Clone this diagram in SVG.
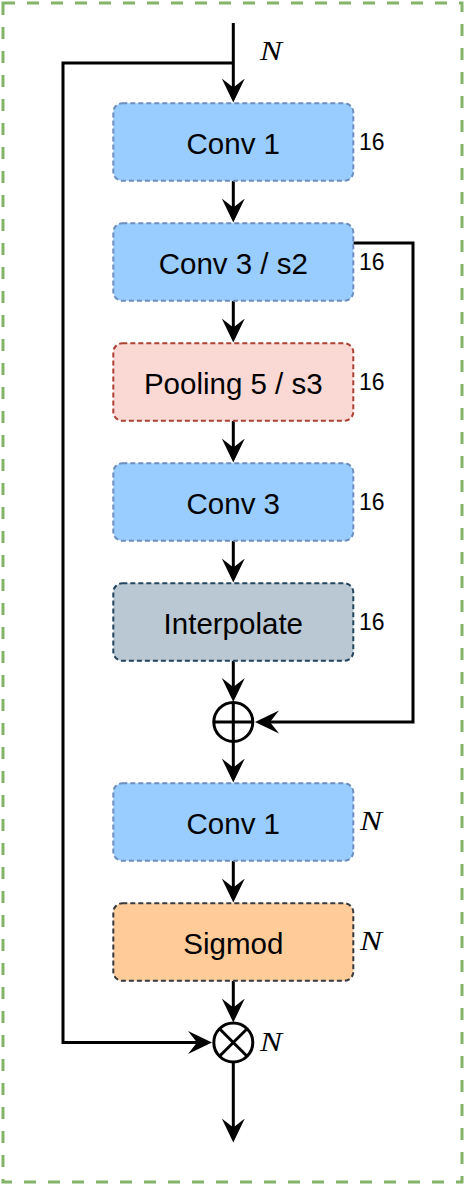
<svg xmlns="http://www.w3.org/2000/svg" width="464" height="1184" viewBox="0 0 464 1184">
<defs>
<marker id="arr" markerUnits="userSpaceOnUse" viewBox="0 0 24 24" refX="10" refY="12" markerWidth="24" markerHeight="24" orient="auto">
<path d="M0,0.5 L24,12 L0,23.5 L9,12 Z" fill="#000"/>
</marker>
</defs>
<style>
.frame{fill:none;stroke:#82b366;stroke-width:3;stroke-dasharray:12 12}
.box{stroke-width:2;stroke-dasharray:5 3}
.blue{fill:#99ccff;stroke:#6c8ebf}
.red{fill:#fad9d5;stroke:#ae4132}
.grey{fill:#bac8d3;stroke:#23445d}
.orange{fill:#ffcc99;stroke:#36393d}
.lbl{font-family:"Liberation Sans",Arial,Helvetica,sans-serif;font-size:29.5px;fill:#000;text-anchor:middle}
.num{font-family:"Liberation Sans",Arial,Helvetica,sans-serif;font-size:23px;fill:#000}
.math{font-family:"Liberation Serif","Times New Roman",serif;font-style:italic;font-size:27px;fill:#000}
.ln{fill:none;stroke:#000;stroke-width:3}
.arw{fill:none;stroke:#000;stroke-width:3;marker-end:url(#arr)}
</style>
<rect class="frame" x="3" y="3" width="459" height="1179"/>

<g id="connectors">
<path class="arw" d="M233.3,23 V88.5"/>
<path class="arw" d="M233.3,63 H63 V1042.5 H198"/>
<path class="arw" d="M233.3,181 V208.5"/>
<path class="arw" d="M233.3,301 V328.5"/>
<path class="arw" d="M233.3,421 V448.5"/>
<path class="arw" d="M233.3,541 V568.5"/>
<path class="arw" d="M233.3,661 V688"/>
<path class="arw" d="M353.3,243 H413 V722 H269"/>
<path class="arw" d="M233.3,742 V768.5"/>
<path class="arw" d="M233.3,861 V888.5"/>
<path class="arw" d="M233.3,981 V1008.5"/>
<path class="arw" d="M233.3,1062 V1128.5"/>
</g>

<g id="n_label_top"><text class="math" x="260" y="60" textLength="22" lengthAdjust="spacingAndGlyphs">N</text></g>

<g id="conv1a">
<rect class="box blue" x="113.3" y="103.3" width="240" height="77.5" rx="9"/>
<text class="lbl" x="233.3" y="154">Conv 1</text>
<text class="num" x="359" y="150">16</text>
</g>
<g id="conv3s2">
<rect class="box blue" x="113.3" y="223.3" width="240" height="77.5" rx="9"/>
<text class="lbl" x="233.3" y="274">Conv 3 / s2</text>
<text class="num" x="359" y="270">16</text>
</g>
<g id="pooling">
<rect class="box red" x="113.3" y="343.3" width="240" height="77.5" rx="9"/>
<text class="lbl" x="233.3" y="394">Pooling 5 / s3</text>
<text class="num" x="359" y="390">16</text>
</g>
<g id="conv3">
<rect class="box blue" x="113.3" y="463.3" width="240" height="77.5" rx="9"/>
<text class="lbl" x="233.3" y="514">Conv 3</text>
<text class="num" x="359" y="510">16</text>
</g>
<g id="interpolate">
<rect class="box grey" x="113.3" y="583.3" width="240" height="77.5" rx="9"/>
<text class="lbl" x="233.3" y="634">Interpolate</text>
<text class="num" x="359" y="630">16</text>
</g>
<g id="add">
<circle cx="233.3" cy="722" r="19.5" fill="#fff" stroke="#000" stroke-width="3"/>
<path class="ln" d="M213.8,722 H252.8 M233.3,702.5 V741.5"/>
</g>
<g id="conv1b">
<rect class="box blue" x="113.3" y="783.3" width="240" height="77.5" rx="9"/>
<text class="lbl" x="233.3" y="834">Conv 1</text>
<text class="math" x="360" y="829.5" textLength="22" lengthAdjust="spacingAndGlyphs">N</text>
</g>
<g id="sigmod">
<rect class="box orange" x="113.3" y="903.3" width="240" height="77.5" rx="9"/>
<text class="lbl" x="233.3" y="954">Sigmod</text>
<text class="math" x="360" y="949.5" textLength="22" lengthAdjust="spacingAndGlyphs">N</text>
</g>
<g id="mul">
<circle cx="233.3" cy="1042.5" r="19.5" fill="#fff" stroke="#000" stroke-width="3"/>
<path class="ln" d="M219.5,1028.7 L247.1,1056.3 M247.1,1028.7 L219.5,1056.3"/>
<text class="math" x="260" y="1050.5" textLength="22" lengthAdjust="spacingAndGlyphs">N</text>
</g>
</svg>
